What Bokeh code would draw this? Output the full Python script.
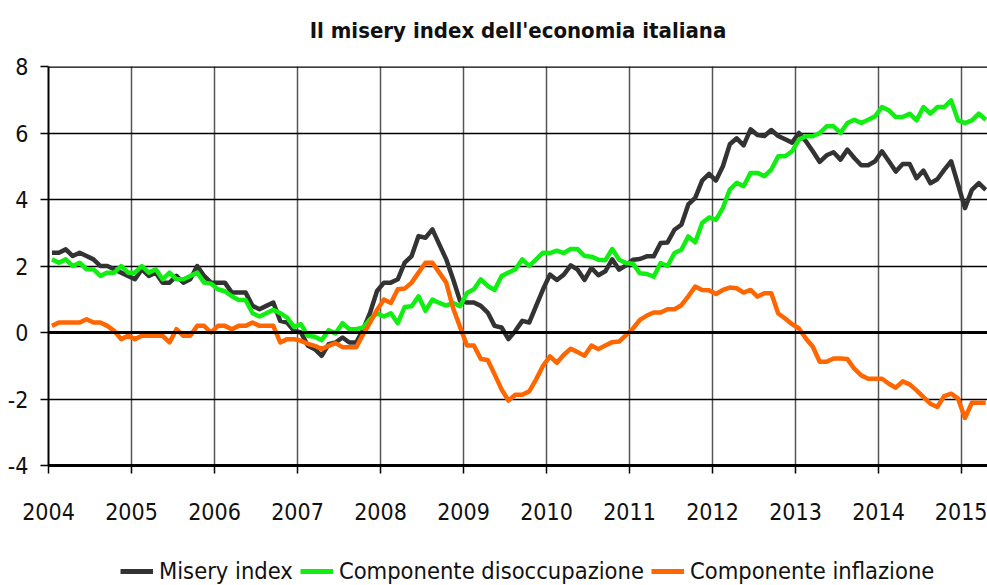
from bokeh.plotting import figure
from bokeh.layouts import column
from bokeh.models import Range1d, FixedTicker, Span, Legend, LegendItem, ColumnDataSource, Label
from bokeh.embed import file_html
from bokeh.resources import INLINE

# ---------------- data (monthly, Jan 2004 - Apr 2015) ----------------
start_year = 2004

misery = [
    2.4, 2.4, 2.5, 2.3, 2.4, 2.3, 2.2, 2.0, 2.0, 1.9, 1.8, 1.7,        # 2004
    1.6, 1.9, 1.7, 1.8, 1.5, 1.5, 1.7, 1.5, 1.6, 2.0, 1.7, 1.5,        # 2005
    1.5, 1.5, 1.2, 1.2, 1.2, 0.8, 0.7, 0.8, 0.9, 0.35, 0.3, 0.05,      # 2006
    0.0, -0.4, -0.5, -0.7, -0.35, -0.3, -0.15, -0.3, -0.3, 0.1, 0.6, 1.25,  # 2007
    1.5, 1.5, 1.6, 2.1, 2.3, 2.9, 2.85, 3.1, 2.65, 2.2, 1.6, 0.95,     # 2008
    0.9, 0.9, 0.8, 0.6, 0.2, 0.15, -0.2, 0.05, 0.35, 0.3, 0.8, 1.3,    # 2009
    1.74, 1.58, 1.74, 2.02, 1.89, 1.58, 1.94, 1.72, 1.84, 2.2, 1.89, 2.02,  # 2010
    2.19, 2.21, 2.29, 2.29, 2.69, 2.71, 3.09, 3.24, 3.85, 4.05, 4.57, 4.77,  # 2011
    4.57, 5.0, 5.66, 5.84, 5.63, 6.11, 5.94, 5.91, 6.09, 5.91, 5.81, 5.71,  # 2012
    6.0, 5.75, 5.45, 5.13, 5.33, 5.42, 5.2, 5.5, 5.25, 5.03, 5.03, 5.15,    # 2013
    5.45, 5.15, 4.84, 5.07, 5.07, 4.64, 4.87, 4.49, 4.61, 4.89, 5.15, 4.45,  # 2014
    3.74, 4.29, 4.49, 4.29,                                            # 2015
]

disoccupazione = [
    2.2, 2.1, 2.2, 2.0, 2.1, 1.9, 1.9, 1.7, 1.8, 1.8, 2.0, 1.8,        # 2004
    1.8, 2.0, 1.8, 1.9, 1.6, 1.8, 1.6, 1.6, 1.7, 1.8, 1.5, 1.47,       # 2005
    1.3, 1.24, 1.09, 0.98, 0.98, 0.58, 0.48, 0.58, 0.68, 0.58, 0.45, 0.17,  # 2006
    0.25, -0.1, -0.13, -0.23, 0.07, -0.03, 0.28, 0.1, 0.1, 0.15, 0.4, 0.58,  # 2007
    0.48, 0.58, 0.28, 0.77, 0.79, 1.09, 0.65, 0.99, 0.89, 0.81, 0.89, 0.79,  # 2008
    1.19, 1.3, 1.6, 1.4, 1.28, 1.7, 1.8, 1.9, 2.2, 2.0, 2.2, 2.4,      # 2009
    2.39, 2.46, 2.39, 2.51, 2.51, 2.3, 2.28, 2.19, 2.17, 2.51, 2.19, 2.09,  # 2010
    2.07, 1.78, 1.76, 1.68, 2.09, 2.0, 2.39, 2.49, 2.89, 2.71, 3.29, 3.46,  # 2011
    3.39, 3.75, 4.3, 4.5, 4.4, 4.8, 4.8, 4.7, 4.9, 5.3, 5.3, 5.45,     # 2012
    5.8, 5.9, 5.9, 6.0, 6.2, 6.2, 6.0, 6.3, 6.4, 6.3, 6.4, 6.5,        # 2013
    6.78, 6.68, 6.48, 6.48, 6.58, 6.38, 6.78, 6.58, 6.78, 6.78, 6.98, 6.38,  # 2014
    6.3, 6.38, 6.58, 6.4,                                              # 2015
]

inflazione = [
    0.2, 0.3, 0.3, 0.3, 0.3, 0.4, 0.3, 0.3, 0.2, 0.05, -0.2, -0.1,     # 2004
    -0.2, -0.1, -0.1, -0.1, -0.1, -0.3, 0.1, -0.1, -0.1, 0.2, 0.2, 0.0,  # 2005
    0.2, 0.2, 0.1, 0.2, 0.2, 0.3, 0.2, 0.2, 0.2, -0.3, -0.2, -0.2,     # 2006
    -0.25, -0.34, -0.4, -0.5, -0.4, -0.32, -0.44, -0.44, -0.44, -0.05, 0.3, 0.68,  # 2007
    0.99, 0.89, 1.3, 1.32, 1.5, 1.8, 2.1, 2.1, 1.8, 1.5, 0.73, 0.17,   # 2008
    -0.39, -0.39, -0.8, -0.83, -1.26, -1.71, -2.05, -1.87, -1.87, -1.77, -1.41, -1.0,  # 2009
    -0.72, -0.91, -0.67, -0.49, -0.59, -0.7, -0.39, -0.5, -0.39, -0.29, -0.27, -0.08,  # 2010
    0.12, 0.38, 0.51, 0.6, 0.6, 0.7, 0.7, 0.82, 1.09, 1.38, 1.28, 1.27,  # 2011
    1.16, 1.28, 1.35, 1.33, 1.2, 1.28, 1.08, 1.18, 1.18, 0.57, 0.42, 0.25,  # 2012
    0.12, -0.18, -0.43, -0.88, -0.88, -0.78, -0.78, -0.8, -1.09, -1.29, -1.39, -1.39,  # 2013
    -1.39, -1.54, -1.66, -1.47, -1.56, -1.74, -1.94, -2.14, -2.24, -1.91, -1.84, -1.99,  # 2014
    -2.57, -2.11, -2.11, -2.11,                                        # 2015
]

year_ticks = [2004, 2005, 2006, 2007, 2008, 2009, 2010, 2011, 2012, 2013, 2014, 2015]
y_ticks = [-4, -2, 0, 2, 4, 6, 8]

title_text = "Il misery index dell'economia italiana"
series_names = ["Misery index", "Componente disoccupazione", "Componente inflazione"]
series_colors = ["#333333", "#11ee11", "#ff6600"]
series_values = [misery, disoccupazione, inflazione]

# month positions (middle of each month)
x = [start_year + (i + 0.5) / 12 for i in range(len(misery))]

FONT = "DejaVu Sans Condensed"
W = 987
LEFT = 48

# ---- title strip above the chart (its frame is aligned with the chart's frame) ----
tt = figure(
    width=W, height=50,
    output_backend="svg", toolbar_location=None,
    x_range=Range1d(LEFT, W), y_range=Range1d(0, 50),
    x_axis_location=None, y_axis_location=None,
    min_border=0,
)
tt.outline_line_color = None
tt.grid.visible = False
tt.add_layout(Label(
    x=(LEFT + W) / 2, y=20, text=title_text,
    text_align="center", text_baseline="middle",
    text_font=FONT, text_font_size="22px", text_font_style="bold",
    text_color="#111111",
))

# ---- main chart ----
p = figure(
    width=W, height=495,
    output_backend="svg", toolbar_location=None,
    x_range=Range1d(2004, 2015.313), y_range=Range1d(-4, 8),
    min_border_left=LEFT, min_border_right=0, min_border_top=16, min_border_bottom=80,
)
p.outline_line_color = None
p.background_fill_color = "white"
p.border_fill_color = "white"

# axes
p.xaxis.ticker = FixedTicker(ticks=year_ticks)
p.xaxis.major_label_overrides = {t: str(t) for t in year_ticks}
p.yaxis.ticker = FixedTicker(ticks=y_ticks)
p.yaxis.major_label_overrides = {t: str(t) for t in y_ticks}
for ax in (p.xaxis[0], p.yaxis[0]):
    ax.major_label_text_font = FONT
    ax.major_label_text_font_size = "23px"
    ax.major_label_text_color = "#111111"
    ax.major_tick_in = 0
    ax.major_tick_out = 8
    ax.major_tick_line_color = "black"
    ax.major_tick_line_width = 1.5
    ax.minor_tick_line_color = None
    ax.axis_line_color = "black"
p.xaxis.axis_line_width = 3
p.yaxis.axis_line_width = 2
p.xaxis.major_label_standoff = 29
p.yaxis.major_label_standoff = 12

# grids
p.xgrid.ticker = FixedTicker(ticks=year_ticks)
p.xgrid.grid_line_color = "#555555"
p.xgrid.grid_line_width = 1.5
p.ygrid.ticker = FixedTicker(ticks=y_ticks)
p.ygrid.grid_line_color = "black"
p.ygrid.grid_line_width = 1.3

p.add_layout(Span(location=0, dimension="width", line_color="black", line_width=3))
p.add_layout(Span(location=8, dimension="width", line_color="black", line_width=2.5))

for vals, color in zip(series_values, series_colors):
    src = ColumnDataSource(dict(x=x, y=vals))
    p.line("x", "y", source=src, line_color=color, line_width=4.5, line_join="round")

# ---- legend strip below the chart ----
lg = figure(
    width=W, height=40,
    output_backend="svg", toolbar_location=None,
    x_range=Range1d(0, 1), y_range=Range1d(0, 1),
    x_axis_location=None, y_axis_location=None,
    min_border=0,
)
lg.outline_line_color = None
lg.grid.visible = False
legend_renderers = []
for vals, color in zip(series_values, series_colors):
    # same series, but outside this strip's ranges: only the legend glyph shows
    legend_renderers.append(lg.line(x=x, y=vals, line_color=color, line_width=5))

legend = Legend(
    items=[LegendItem(label=n, renderers=[r]) for n, r in zip(series_names, legend_renderers)],
    orientation="horizontal",
    location=(72, 0),
    label_text_font=FONT,
    label_text_font_size="23.5px",
    label_text_color="#111111",
    glyph_width=33, glyph_height=20,
    label_standoff=6, spacing=7,
    padding=0, margin=0,
    border_line_color=None, background_fill_alpha=0,
)
lg.add_layout(legend)

layout = column(tt, p, lg, spacing=0)
open("out.html", "w").write(file_html(layout, INLINE))
